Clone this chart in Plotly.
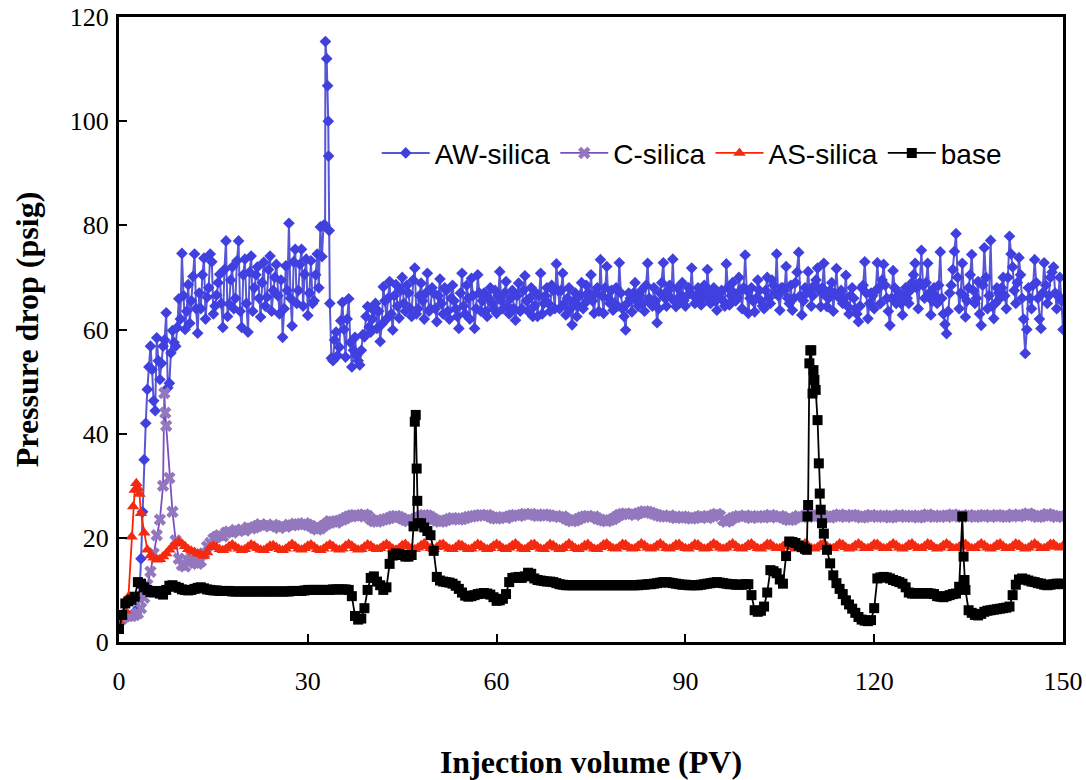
import numpy as np
import plotly.graph_objects as go

# ---------------- data ----------------
# main grid: x = 0, 0.5, ..., 150 PV ; quarter grid: x = 0.25, 0.75, ..., 149.75 PV
step = 0.5

aw_silica = [
    5.0, 5.0, 5.0, 5.0, 5.1, 5.3, 6.5, 16.0, 35.0, 48.5, 56.8, 46.3, 58.4, 50.4, 56.8, 63.2, 49.7, 59.8, 56.8, 65.9,
    74.6, 60.0, 68.6, 65.5, 74.5, 59.3, 64.0, 73.7, 66.2, 74.5, 63.0, 66.6, 70.6, 60.4, 77.0, 64.9, 72.0, 66.0, 77.0, 60.4,
    73.5, 59.5, 74.1, 68.0, 72.0, 62.4, 72.9, 66.2, 74.1, 67.5, 72.5, 63.0, 58.5, 72.2, 80.4, 60.7, 75.4, 67.5, 75.4, 70.6,
    62.7, 73.2, 65.5, 74.5, 79.7, 80.0, 112.0, 65.0, 54.0, 59.5, 56.6, 65.2, 54.7, 65.9, 52.8, 58.5, 54.0, 56.0, 58.6, 64.4,
    59.5, 63.6, 60.2, 57.7, 68.2, 62.0, 69.2, 59.9, 68.6, 62.2, 70.0, 63.5, 67.0, 62.5, 71.8, 64.0, 68.9, 62.0, 70.8, 64.0,
    67.0, 61.5, 69.7, 63.0, 67.5, 62.0, 68.5, 64.0, 60.2, 70.8, 63.0, 66.0, 69.8, 60.2, 70.5, 63.5, 67.0, 62.5, 68.0, 64.0,
    63.1, 71.1, 64.0, 69.2, 63.0, 67.5, 61.8, 68.9, 64.0, 70.3, 63.5, 68.0, 64.5, 62.5, 70.8, 65.0, 68.0, 63.5, 67.5, 72.6,
    64.0, 70.8, 62.8, 68.0, 60.9, 67.0, 64.5, 69.0, 65.0, 67.0, 70.5, 63.1, 68.0, 73.4, 63.1, 72.1, 65.0, 63.7, 68.0, 72.8,
    64.0, 59.9, 67.0, 63.4, 69.0, 64.5, 67.5, 63.5, 72.7, 65.0, 68.0, 61.3, 67.0, 72.8, 64.5, 68.5, 73.5, 64.4, 65.0, 69.0,
    64.5, 68.0, 71.8, 65.0, 68.0, 64.7, 68.5, 71.5, 65.0, 68.0, 63.7, 67.0, 65.5, 72.6, 64.7, 69.0, 65.5, 70.0, 64.0, 74.3,
    63.1, 68.0, 63.4, 69.5, 65.5, 64.0, 70.0, 65.0, 68.5, 74.5, 63.7, 68.0, 72.1, 65.0, 63.7, 69.0, 74.8, 62.8, 68.0, 71.1,
    64.5, 68.5, 71.8, 64.4, 72.7, 64.4, 67.5, 63.5, 71.7, 66.0, 65.0, 70.4, 63.0, 68.0, 64.0, 61.5, 68.0, 73.0, 62.1, 67.0,
    64.0, 72.8, 65.0, 72.5, 66.0, 60.8, 71.3, 65.0, 67.0, 62.8, 68.0, 65.0, 69.0, 72.7, 64.0, 75.2, 66.0, 72.7, 62.8, 68.0,
    65.0, 74.9, 63.0, 59.2, 67.0, 71.5, 78.4, 64.0, 72.7, 62.4, 68.0, 74.4, 65.0, 69.2, 60.8, 75.7, 64.0, 77.1, 62.1, 68.0,
    66.0, 70.0, 64.0, 77.9, 72.0, 65.0, 73.8, 66.0, 55.4, 68.0, 64.0, 73.4, 66.0, 60.2, 72.8, 65.0, 70.0, 72.0, 64.0, 70.0, 60.0,
]
aw_silica_q = [
    5.0, 5.0, 5.0, 5.0, 5.2, 5.5, 9.0, 25.0, 42.0, 52.8, 52.3, 44.4, 54.0, 53.5, 58.0, 48.8, 55.5, 57.5, 60.4, 62.0,
    66.5, 63.5, 61.2, 70.2, 64.0, 67.0, 70.5, 62.0, 68.0, 73.0, 64.5, 69.0, 65.0, 71.5, 62.5, 69.5, 64.0, 73.2, 63.5, 70.5,
    65.0, 71.0, 63.5, 70.5, 66.0, 69.0, 64.5, 71.5, 63.5, 70.0, 66.5, 69.5, 64.0, 67.5, 66.0, 73.0, 65.0, 72.5, 64.5, 73.5,
    67.0, 65.0, 70.5, 68.0, 74.0, 80.0, 100.0, 54.5, 58.0, 55.0, 61.7, 60.0, 62.0, 57.5, 56.0, 55.0, 53.2, 59.0, 62.5, 60.5,
    62.0, 65.0, 63.5, 61.0, 65.5, 66.0, 63.0, 66.5, 64.5, 67.5, 65.0, 68.5, 64.0, 69.5, 63.0, 66.5, 65.5, 67.0, 63.5, 68.0,
    64.0, 66.5, 65.0, 68.0, 63.5, 66.0, 65.5, 62.5, 67.0, 64.5, 68.5, 62.0, 66.5, 64.0, 67.0, 65.5, 63.5, 66.0, 65.0, 67.5,
    66.5, 65.5, 67.0, 64.5, 66.0, 64.0, 66.5, 63.5, 67.5, 65.5, 66.0, 62.5, 67.0, 66.5, 63.0, 66.5, 65.0, 68.5, 64.0, 67.5,
    67.5, 65.0, 66.0, 64.0, 65.5, 62.5, 66.5, 64.0, 68.5, 66.0, 65.5, 67.0, 63.5, 66.5, 68.0, 66.0, 67.5, 65.0, 64.5, 67.0,
    62.5, 65.0, 66.0, 67.0, 65.5, 66.5, 65.0, 68.5, 66.0, 64.5, 65.5, 64.0, 69.0, 66.0, 67.5, 66.0, 65.5, 68.0, 66.5, 65.5,
    66.5, 67.0, 66.5, 66.5, 65.5, 67.0, 66.0, 67.5, 66.5, 65.5, 66.0, 67.5, 64.5, 68.0, 66.5, 67.0, 66.0, 67.5, 68.0, 67.5,
    66.0, 65.5, 66.0, 67.5, 64.5, 67.5, 66.0, 69.5, 67.0, 66.5, 68.0, 67.5, 66.0, 68.5, 66.0, 71.0, 66.5, 65.5, 67.0, 67.5,
    66.5, 69.5, 67.5, 68.0, 66.5, 66.0, 69.0, 67.0, 66.5, 67.5, 66.0, 64.5, 66.5, 66.0, 63.0, 64.5, 68.5, 67.0, 65.0, 66.5,
    67.5, 68.0, 69.5, 68.5, 63.5, 66.0, 68.0, 66.5, 65.0, 66.5, 66.0, 67.5, 70.5, 68.0, 69.0, 68.5, 69.0, 67.0, 65.5, 66.5,
    68.5, 66.0, 61.0, 63.5, 68.5, 75.0, 70.0, 67.0, 66.5, 65.5, 70.5, 67.5, 66.0, 63.0, 68.5, 70.0, 66.5, 64.5, 65.0, 67.0,
    68.0, 66.5, 70.0, 74.5, 67.5, 69.0, 70.5, 62.0, 60.0, 66.0, 68.5, 69.0, 62.0, 67.0, 68.5, 66.5, 71.0, 67.0, 66.5, 65.5,
]
aw_extra_x = [32.8, 33.15, 33.3, 33.4]
aw_extra_y = [115.3, 106.8, 93.3, 79.0]

c_silica = [
    4.0, 4.5, 5.0, 5.0, 5.0, 5.2, 5.5, 6.5, 8.5, 11.0, 13.5, 17.0, 20.5, 23.5, 30.0, 41.5, 31.5, 25.0, 19.5, 16.0,
    14.8, 14.5, 15.5, 16.0, 15.2, 15.0, 15.5, 17.0, 18.3, 19.0, 19.8, 20.2, 20.5, 20.3, 21.0, 21.2, 21.0, 21.5, 21.3, 21.6,
    21.4, 22.0, 21.8, 22.0, 22.3, 22.6, 22.3, 22.5, 22.2, 22.5, 22.2, 21.9, 22.3, 22.1, 22.5, 22.4, 22.7, 22.6, 22.5, 22.8,
    22.5, 22.3, 21.9, 21.6, 21.8, 22.3, 22.7, 23.2, 23.1, 22.9, 23.3, 23.5, 23.8, 24.1, 24.3, 24.4, 24.1, 24.3, 24.5, 24.2,
    23.6, 23.2, 23.1, 23.3, 23.5, 23.6, 23.8, 24.1, 24.2, 24.0, 23.7, 23.4, 23.2, 23.4, 23.6, 23.9, 24.2, 24.4, 24.3, 24.0,
    23.6, 23.3, 23.1, 23.2, 23.4, 23.6, 23.8, 23.7, 23.5, 23.6, 23.8, 24.0, 24.1, 24.2, 24.3, 24.4, 24.3, 24.4, 24.1, 23.8,
    23.7, 23.9, 24.0, 23.8, 24.1, 24.3, 24.4, 24.2, 24.4, 24.6, 24.5, 24.6, 24.4, 24.2, 24.3, 24.5, 24.4, 24.3, 24.1, 24.2,
    24.0, 24.1, 23.7, 23.4, 23.2, 23.3, 23.6, 23.9, 24.1, 24.2, 24.0, 24.1, 23.7, 23.5, 23.3, 23.2, 23.4, 23.6, 24.0, 24.4,
    24.6, 24.7, 24.5, 24.6, 24.4, 24.7, 24.9, 25.1, 25.0, 24.8, 24.6, 24.4, 24.2, 24.1, 24.1, 24.3, 24.0, 23.8, 23.9, 24.1,
    24.0, 23.8, 23.7, 23.8, 24.0, 24.2, 24.0, 23.8, 24.1, 24.4, 24.6, 24.2, 23.4, 23.1, 23.3, 23.8, 24.0, 24.2, 24.1, 24.3,
    24.0, 23.8, 24.1, 24.2, 24.0, 23.9, 24.2, 24.4, 24.1, 23.9, 24.2, 24.0, 23.6, 23.4, 23.5, 23.9, 24.2, 24.0, 24.1, 24.5,
    24.3, 24.0, 24.2, 24.4, 24.2, 24.0, 23.9, 24.1, 24.3, 24.5, 24.2, 24.0, 24.2, 24.4, 24.3, 24.1, 23.9, 24.0, 24.2, 24.4,
    24.2, 24.0, 24.1, 24.3, 24.2, 23.9, 24.0, 24.2, 24.4, 24.2, 24.0, 24.1, 24.3, 24.2, 23.9, 24.0, 24.3, 24.5, 24.2, 24.0,
    24.1, 24.3, 24.2, 24.0, 24.3, 24.5, 24.3, 24.1, 24.0, 24.2, 24.4, 24.2, 24.0, 24.1, 24.3, 24.4, 24.2, 24.0, 24.2, 24.4,
    24.3, 24.1, 24.0, 24.2, 24.5, 24.3, 24.1, 24.3, 24.5, 24.7, 24.4, 24.2, 24.0, 24.1, 24.3, 24.6, 24.4, 24.2, 24.0, 24.2, 24.1,
]
c_extra_x = [7.2, 7.35]
c_extra_y = [47.8, 44.0]

as_silica = [
    4.0, 5.0, 6.0, 8.7, 20.2, 29.2, 29.5, 24.7, 21.0, 17.7, 16.6, 16.2, 15.8, 15.9, 16.4, 17.0, 17.7, 18.3, 18.9, 19.3,
    18.9, 18.4, 17.8, 17.5, 17.3, 17.0, 16.8, 16.5, 17.2, 18.2, 18.5, 18.2, 17.8, 17.6, 17.9, 18.4, 18.7, 18.3, 17.9, 17.6,
    17.8, 18.3, 18.7, 18.5, 18.0, 17.7, 17.6, 18.0, 18.5, 18.6, 18.2, 17.8, 17.6, 17.9, 18.4, 18.8, 18.4, 17.9, 17.7, 18.0,
    18.5, 18.7, 18.3, 17.8, 17.6, 17.9, 18.4, 18.7, 18.4, 17.9, 17.7, 17.9, 18.5, 18.8, 18.5, 18.0, 17.7, 17.8, 18.3, 18.7,
    18.5, 18.0, 17.8, 18.0, 18.5, 18.8, 18.4, 17.9, 17.7, 18.0, 18.6, 18.8, 18.3, 17.9, 17.8, 18.1, 18.6, 18.9, 18.4, 18.0,
    17.8, 18.2, 18.7, 18.8, 18.3, 17.9, 17.8, 18.2, 18.7, 18.6, 18.1, 17.8, 17.9, 18.4, 18.8, 18.6, 18.1, 17.8, 18.0, 18.5,
    18.8, 18.5, 18.0, 17.8, 18.1, 18.6, 18.9, 18.4, 17.9, 17.8, 18.2, 18.7, 18.8, 18.3, 17.9, 17.8, 18.3, 18.8, 18.6, 18.1,
    17.8, 18.0, 18.5, 18.9, 18.5, 18.0, 17.8, 18.1, 18.6, 18.8, 18.3, 17.9, 17.8, 18.2, 18.7, 18.9, 18.4, 18.0, 17.9, 18.3,
    18.8, 18.7, 18.2, 17.9, 18.0, 18.5, 18.9, 18.6, 18.1, 17.9, 18.1, 18.6, 18.9, 18.5, 18.0, 17.9, 18.2, 18.7, 18.8, 18.3,
    18.0, 17.9, 18.3, 18.8, 18.7, 18.2, 17.9, 18.0, 18.5, 18.9, 18.6, 18.1, 17.9, 18.1, 18.6, 18.9, 18.5, 18.0, 17.9, 18.2,
    18.7, 18.9, 18.4, 18.0, 17.9, 18.3, 18.8, 18.8, 18.3, 18.0, 18.0, 18.4, 18.9, 18.7, 18.2, 17.9, 18.1, 18.6, 18.9, 18.5,
    18.0, 17.9, 18.2, 18.7, 18.9, 18.4, 18.0, 18.0, 18.4, 18.9, 18.7, 18.2, 17.9, 18.1, 18.6, 18.9, 18.5, 18.0, 18.0, 18.3,
    18.8, 18.8, 18.3, 18.0, 18.0, 18.5, 18.9, 18.6, 18.1, 17.9, 18.2, 18.7, 18.9, 18.4, 18.0, 18.0, 18.4, 18.9, 18.7, 18.2,
    17.9, 18.1, 18.6, 18.9, 18.5, 18.0, 18.0, 18.3, 18.8, 18.8, 18.3, 18.0, 18.0, 18.5, 18.9, 18.6, 18.1, 17.9, 18.2, 18.7,
    18.9, 18.4, 18.0, 18.0, 18.4, 18.9, 18.7, 18.2, 17.9, 18.1, 18.6, 18.9, 18.5, 18.0, 18.0, 18.3, 18.8, 18.8, 18.3, 18.1, 18.5,
]
as_extra_x = [2.25, 2.75, 3.25]
as_extra_y = [26.0, 30.5, 28.4]

base = [
    2.5, 5.2, 7.4, 7.8, 8.1, 8.7, 11.5, 11.2, 10.5, 10.0, 9.6, 9.5, 9.8, 9.3, 9.1, 10.0, 10.8, 10.9, 10.6, 10.4,
    10.1, 10.0, 9.9, 10.0, 10.2, 10.4, 10.5, 10.3, 10.1, 10.0, 9.9, 9.9, 9.8, 9.8, 9.8, 9.8, 9.7, 9.7, 9.7, 9.7,
    9.7, 9.7, 9.7, 9.7, 9.7, 9.7, 9.7, 9.7, 9.7, 9.7, 9.7, 9.7, 9.7, 9.7, 9.7, 9.8, 9.8, 9.8, 9.8, 9.9,
    10.0, 10.0, 10.0, 10.0, 10.0, 10.0, 10.0, 10.0, 10.1, 10.1, 10.1, 10.1, 10.1, 10.0, 8.8, 5.0, 4.3, 4.5, 6.5, 10.0,
    12.3, 12.6, 11.6, 10.9, 10.0, 10.5, 15.0, 16.6, 17.0, 16.9, 16.7, 16.4, 16.4, 16.7, 42.3, 22.8, 22.8, 22.0, 21.3, 20.5,
    17.5, 12.5, 11.8, 11.6, 11.5, 11.4, 11.2, 10.8, 10.2, 9.5, 8.9, 8.7, 8.8, 9.0, 9.2, 9.3, 9.4, 9.3, 9.1, 8.6,
    7.9, 8.0, 8.3, 9.2, 11.5, 12.3, 12.4, 12.5, 12.3, 12.6, 13.3, 13.1, 12.2, 11.9, 11.8, 11.7, 11.6, 11.6, 11.5, 11.3,
    11.1, 11.0, 10.9, 10.9, 10.9, 10.9, 10.9, 10.9, 10.9, 10.9, 10.9, 10.9, 10.9, 10.9, 10.9, 10.9, 10.9, 10.9, 10.9, 10.9,
    10.9, 10.9, 10.9, 10.9, 10.9, 10.9, 11.0, 11.0, 11.1, 11.1, 11.2, 11.3, 11.4, 11.5, 11.5, 11.4, 11.3, 11.2, 11.1, 11.0,
    11.0, 10.9, 10.9, 10.9, 10.9, 11.0, 11.1, 11.2, 11.3, 11.4, 11.5, 11.4, 11.3, 11.2, 11.1, 11.1, 11.0, 11.0, 11.0, 11.1,
    11.1, 9.0, 6.1, 5.8, 6.0, 6.8, 9.5, 13.8, 13.6, 13.2, 12.0, 11.2, 16.5, 19.3, 19.2, 19.0, 18.5, 18.2, 17.9, 26.3,
    56.0, 50.3, 42.6, 25.4, 20.8, 17.7, 15.1, 12.8, 11.3, 10.2, 9.2, 8.0, 7.2, 6.4, 5.6, 4.8, 4.3, 4.1, 4.0, 4.2,
    6.5, 12.2, 12.4, 12.5, 12.4, 12.2, 11.9, 11.7, 11.5, 11.2, 10.5, 9.5, 9.3, 9.3, 9.4, 9.3, 9.3, 9.4, 9.3, 9.2,
    8.8, 8.7, 8.6, 8.8, 9.0, 9.2, 9.3, 10.6, 24.1, 10.0, 6.1, 5.6, 5.2, 5.1, 5.4, 5.8, 6.0, 6.1, 6.2, 6.3,
    6.4, 6.5, 6.6, 6.8, 9.0, 11.0, 12.0, 12.2, 12.0, 11.8, 11.6, 11.5, 11.3, 11.2, 11.0, 10.9, 11.0, 11.1, 11.2, 11.2, 11.1,
]
base_extra_x = [46.8, 47.15, 47.3, 47.4, 109.3, 109.4, 109.7, 109.85, 110.2, 110.35, 110.7,
                111.2, 111.35, 111.7, 134.2, 134.35]
base_extra_y = [22.2, 43.6, 33.3, 27.1, 17.7, 24.1, 53.5, 56.0, 47.7, 52.2, 48.4,
                34.3, 28.5, 22.8, 16.4, 11.9]

x_ticks = [0, 30, 60, 90, 120, 150]


def series(grid_vals, ex, ey, quarter_vals=None):
    xs = [np.arange(len(grid_vals)) * step, np.array(ex, float)]
    ys = [np.array(grid_vals, float), np.array(ey, float)]
    if quarter_vals is not None:
        xs.append(np.arange(len(quarter_vals)) * step + step / 2)
        ys.append(np.array(quarter_vals, float))
    x = np.concatenate(xs)
    y = np.concatenate(ys)
    order = np.argsort(x, kind="stable")
    return x[order], y[order]


traces = [
    ("AW-silica", aw_silica, aw_extra_x, aw_extra_y, aw_silica_q, "#5656D6", "#4040E0", "diamond", 9, 2.0),
    ("C-silica", c_silica, c_extra_x, c_extra_y, None, "#7B4FC0", "#9478BE", "x", 11, 1.8),
    ("AS-silica", as_silica, as_extra_x, as_extra_y, None, "#FF2400", "#F42A10", "triangle-up", 11, 1.8),
    ("base", base, base_extra_x, base_extra_y, None, "#000000", "#000000", "square", 10, 1.8),
]

fig = go.Figure()
for name, vals, ex, ey, q, lc, mc, sym, ms, lw in traces:
    x, y = series(vals, ex, ey, q)
    fig.add_trace(go.Scatter(
        x=x, y=y, name=name, mode="lines+markers",
        line=dict(color=lc, width=lw),
        marker=dict(symbol=sym, size=ms, color=mc, line=dict(width=0)),
    ))

serif = "Liberation Serif, Times New Roman, serif"
fig.update_layout(
    width=1086, height=780,
    margin=dict(l=119, r=23, t=17, b=138, autoexpand=False),
    plot_bgcolor="white", paper_bgcolor="white",
    font=dict(family=serif, color="black"),
    legend=dict(
        orientation="h", x=0.273, y=0.782, xanchor="left", yanchor="middle",
        font=dict(family="Liberation Sans, Arial, sans-serif", size=28, color="black"),
        bgcolor="rgba(0,0,0,0)", itemwidth=48,
    ),
)
fig.update_xaxes(
    range=[0, 150], tickvals=x_ticks, ticks="inside", ticklen=8, tickwidth=2, tickcolor="black",
    showline=True, linewidth=3, linecolor="black", mirror=True, showgrid=False, zeroline=False,
    automargin=False,
    tickfont=dict(family=serif, size=26), ticklabelstandoff=14,
    title=dict(text="<b>Injection volume (PV)</b>", font=dict(family=serif, size=32), standoff=60),
)
fig.update_yaxes(
    range=[0, 120], dtick=20, ticks="inside", ticklen=8, tickwidth=2, tickcolor="black",
    showline=True, linewidth=3, linecolor="black", mirror=True, showgrid=False, zeroline=False,
    automargin=False,
    tickfont=dict(family=serif, size=26), ticklabelstandoff=2,
    title=dict(text="<b>Pressure drop (psig)</b>", font=dict(family=serif, size=32), standoff=22),
)

fig.write_html("out.html")
